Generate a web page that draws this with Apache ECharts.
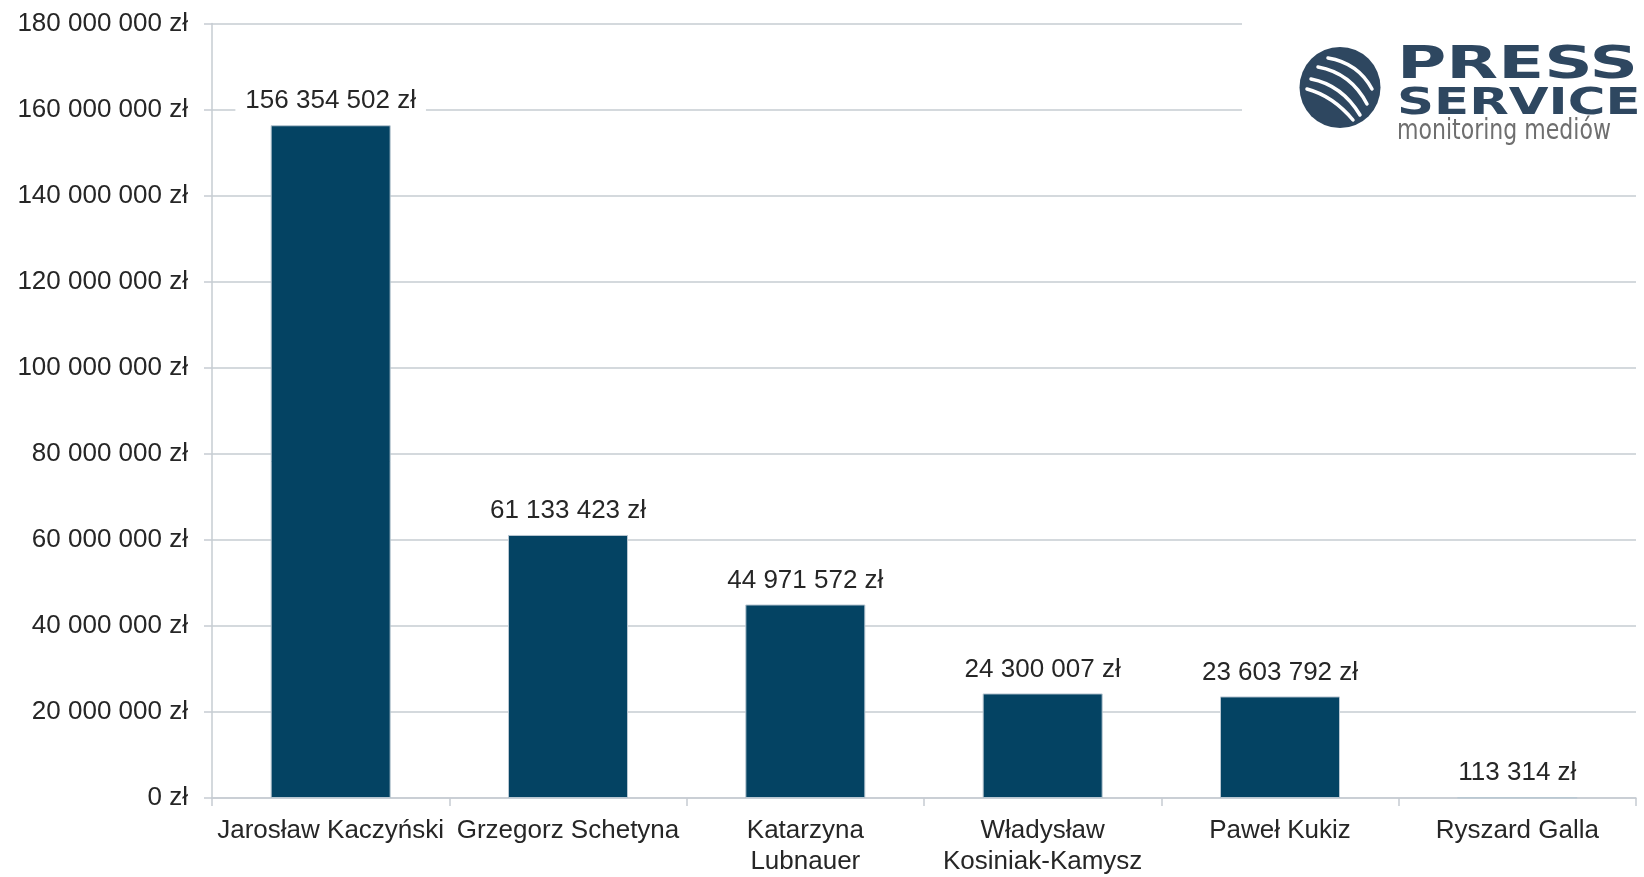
<!DOCTYPE html>
<html>
<head>
<meta charset="utf-8">
<script src="https://cdn.jsdelivr.net/npm/echarts@6/dist/echarts.min.js"></script>
<style>
html,body{margin:0;padding:0;background:#fff;}
#c{width:1644px;height:877px;}
</style>
</head>
<body>
<div id="c"></div>
<script>
var categories = ["Jarosław Kaczyński", "Grzegorz Schetyna", "Katarzyna\nLubnauer", "Władysław\nKosiniak-Kamysz", "Paweł Kukiz", "Ryszard Galla"];
var values = [156354502, 61133423, 44971572, 24300007, 23603792, 113314];
var yMin = 0, yMax = 180000000, yStep = 20000000;

function fmt(v) {
  return String(v).replace(/\B(?=(\d{3})+(?!\d))/g, ' ') + ' zł';
}

var chart = echarts.init(document.getElementById('c'), null, {renderer: 'canvas'});
var txt = '#262626';
var gridCol = '#c6ccd2';
var logoCol = '#2e4760';
var ff = 'Liberation Sans, Arial, sans-serif';

chart.setOption({
  animation: false,
  backgroundColor: '#ffffff',
  grid: {left: 212, right: 8, top: 23.5, bottom: 77, containLabel: false},
  xAxis: {
    type: 'category',
    data: categories,
    axisLine: {lineStyle: {color: gridCol, width: 1.5}},
    axisTick: {show: true, length: 8, lineStyle: {color: gridCol, width: 1.5}},
    axisLabel: {color: txt, fontSize: 26, fontFamily: ff, margin: 17, lineHeight: 31, interval: 0}
  },
  yAxis: {
    type: 'value',
    min: yMin, max: yMax, interval: yStep,
    axisLine: {show: true, lineStyle: {color: gridCol, width: 1.5}},
    axisTick: {show: true, length: 8, lineStyle: {color: gridCol, width: 1.5}},
    splitLine: {lineStyle: {color: gridCol, width: 1.5}},
    axisLabel: {color: txt, fontSize: 26, fontFamily: ff, margin: 24, formatter: fmt}
  },
  series: [{
    type: 'bar',
    data: values,
    barWidth: 120,
    itemStyle: {color: '#044363', borderColor: '#b9c7d2', borderWidth: 1},
    label: {
      show: true, position: 'top', distance: 9,
      color: txt, fontSize: 26, fontFamily: ff,
      backgroundColor: '#ffffff', padding: [2, 10],
      formatter: function (p) { return fmt(p.value); }
    }
  }],
  graphic: [
    {type: 'rect', left: 1242, top: 0, z: 100, shape: {width: 402, height: 160}, style: {fill: '#ffffff'}},
    {type: 'circle', z: 101, shape: {cx: 1340, cy: 87.5, r: 40.5}, style: {fill: logoCol}},
    {type: 'bezierCurve', z: 102, shape: {x1: 1328, y1: 58, x2: 1372, y2: 89, cpx1: 1358, cpy1: 63}, style: {stroke: '#ffffff', lineWidth: 3.5, lineCap: 'round', fill: null}},
    {type: 'bezierCurve', z: 102, shape: {x1: 1318, y1: 67, x2: 1367, y2: 104, cpx1: 1351, cpy1: 73}, style: {stroke: '#ffffff', lineWidth: 3.5, lineCap: 'round', fill: null}},
    {type: 'bezierCurve', z: 102, shape: {x1: 1311, y1: 79, x2: 1360, y2: 115, cpx1: 1342, cpy1: 85}, style: {stroke: '#ffffff', lineWidth: 3.5, lineCap: 'round', fill: null}},
    {type: 'bezierCurve', z: 102, shape: {x1: 1307, y1: 89, x2: 1353, y2: 120, cpx1: 1333, cpy1: 96}, style: {stroke: '#ffffff', lineWidth: 3.5, lineCap: 'round', fill: null}},
    {type: 'text', z: 102, x: 1397, y: 67, scaleX: 1.53, scaleY: 1,
      style: {text: 'PRESS', x: 0, y: 0, fill: logoCol, font: 'bold 44px "DejaVu Sans"', textAlign: 'left', textVerticalAlign: 'middle', align: 'left', verticalAlign: 'middle'}},
    {type: 'text', z: 102, x: 1397, y: 104, scaleX: 1.39, scaleY: 1,
      style: {text: 'SERVICE', x: 0, y: 0, fill: logoCol, font: 'bold 37px "DejaVu Sans"', textAlign: 'left', textVerticalAlign: 'middle', align: 'left', verticalAlign: 'middle'}},
    {type: 'text', z: 102, x: 1397, y: 131, scaleX: 0.76, scaleY: 1,
      style: {text: 'monitoring mediów', x: 0, y: 0, fill: '#6f6f6f', font: '29px "DejaVu Sans"', textAlign: 'left', textVerticalAlign: 'middle', align: 'left', verticalAlign: 'middle'}}
  ]
});
</script>
</body>
</html>
